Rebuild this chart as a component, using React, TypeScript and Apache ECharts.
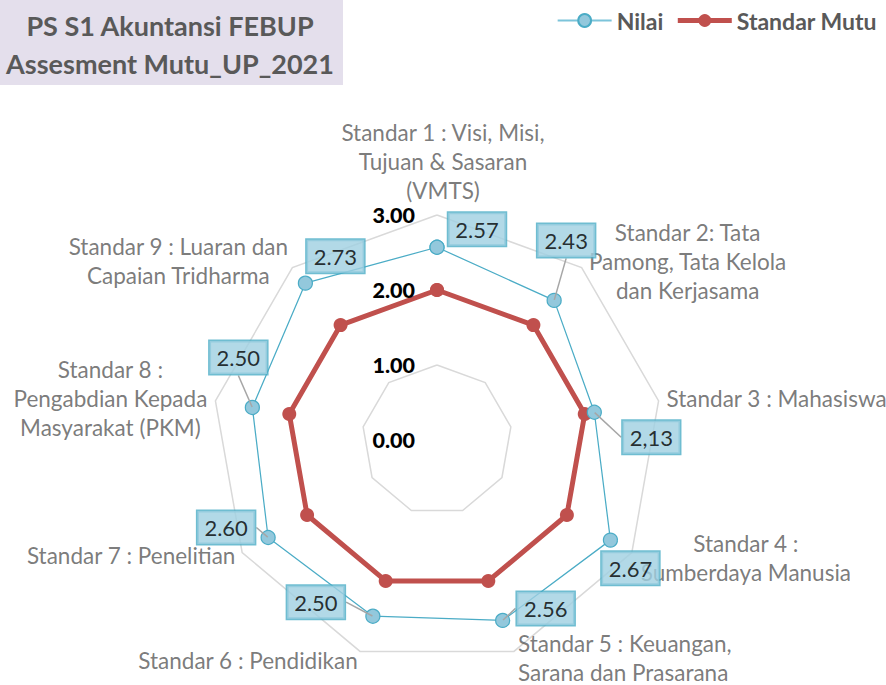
import React, { useEffect, useRef } from "react";
import * as echarts from "echarts";

const indicators = [
  "Standar 1 : Visi, Misi,\nTujuan & Sasaran\n(VMTS)",
  "Standar 2: Tata\nPamong, Tata Kelola\ndan Kerjasama",
  "Standar 3 : Mahasiswa",
  "Standar 4 :\nSumberdaya Manusia",
  "Standar 5 : Keuangan,\nSarana dan Prasarana",
  "Standar 6 : Pendidikan",
  "Standar 7 : Penelitian",
  "Standar 8 :\nPengabdian Kepada\nMasyarakat (PKM)",
  "Standar 9 : Luaran dan\nCapaian Tridharma",
];
const nilai = [2.57, 2.43, 2.13, 2.67, 2.56, 2.5, 2.6, 2.5, 2.73];
const nilaiLabels = ["2.57", "2.43", "2,13", "2.67", "2.56", "2.50", "2.60", "2.50", "2.73"];
const standarMutu = [2, 2, 2, 2, 2, 2, 2, 2, 2];
const axisMin = 0;
const axisMax = 3;
const axisInterval = 1;

// label placement (styles)
const nameOffsets: [number, number][] = [
  [6, -54], [106, -6], [118, -2], [114, 5], [4, 7], [-112, 9], [-111, 3], [-105, -2], [-114, -7],
];
const nameAlign = ["center", "center", "center", "center", "left", "center", "center", "center", "center"];
const valueLabelShift: [number, number][] = [
  [40, -18], [12, -60], [57, 25], [20, 28], [43, -12], [-57, -14], [-42, -10], [-14, -50], [30, -27],
];
const leaderShown = [false, true, true, false, true, true, true, true, false];

const FONT = "Lato";
const GRAY = "#595959";
const BLUE = "#4bacc6";
const RED = "#c0504d";

export default function App() {
  const ref = useRef<HTMLDivElement>(null);
  useEffect(() => {
    document.body.style.margin = "0";
    const chart = echarts.init(ref.current!, null, { renderer: "svg" });
    const step = 360 / indicators.length;
    const ring = (vals: number[]) => [...vals.map((v, i) => [v, i * step]), [vals[0], 360]];
    const center = [437, 440];
    const radius = 225;

    chart.setOption({
      animation: false,
      textStyle: { fontFamily: FONT },
      graphic: [
        { type: "rect", shape: { x: 0, y: 0, width: 343, height: 85 }, style: { fill: "#e4dfec" }, z: 0 },
        {
          type: "text",
          x: 170,
          y: 44,
          style: {
            text: "PS S1 Akuntansi FEBUP\nAssesment Mutu_UP_2021",
            fill: GRAY,
            font: `bold 27px ${FONT}`,
            align: "center",
            verticalAlign: "middle",
            lineHeight: 38,
          },
          z: 1,
        },
      ],
      legend: {
        data: [
          { name: "Nilai", lineStyle: { width: 2, color: "#7cc4da" } },
          { name: "Standar Mutu", lineStyle: { width: 5 } },
        ],
        top: 4,
        right: 4,
        itemWidth: 54,
        itemHeight: 16,
        itemGap: 12,
        textStyle: { color: GRAY, fontWeight: "bold", fontSize: 23, fontFamily: FONT },
      },
      radar: {
        center,
        radius,
        startAngle: 90,
        splitNumber: 3,
        shape: "polygon",
        indicator: indicators.map(() => ({ name: "", min: axisMin, max: axisMax })),
        axisName: { show: false },
        axisLine: { show: false },
        axisTick: { show: false },
        axisLabel: { show: false },
        splitArea: { show: false },
        splitLine: { lineStyle: { color: "#d9d9d9", width: 1.5 } },
      },
      polar: { center, radius },
      angleAxis: {
        type: "value",
        min: 0,
        max: 360,
        startAngle: 90,
        clockwise: true,
        show: false,
      },
      radiusAxis: {
        type: "value",
        min: axisMin,
        max: axisMax,
        interval: axisInterval,
        axisLine: { show: false },
        axisTick: { show: false },
        splitLine: { show: false },
        axisLabel: {
          formatter: (v: number) => v.toFixed(2),
          fontWeight: 900,
          color: "#000",
          fontSize: 21.5,
          fontFamily: FONT,
          margin: 22,
        },
        z: 20,
      },
      series: [
        {
          name: "Standar Mutu",
          type: "line",
          coordinateSystem: "polar",
          data: ring(standarMutu),
          symbol: "circle",
          symbolSize: 14,
          lineStyle: { color: RED, width: 5 },
          itemStyle: { color: RED },
          z: 3,
        },
        {
          name: "Nilai",
          type: "line",
          coordinateSystem: "polar",
          data: ring(nilai),
          symbol: "circle",
          symbolSize: 14,
          lineStyle: { color: BLUE, width: 1.25 },
          itemStyle: { color: "#93c8dc", borderColor: BLUE, borderWidth: 1.25 },
          z: 4,
        },
        {
          name: "names",
          type: "scatter",
          coordinateSystem: "polar",
          silent: true,
          symbolSize: 1,
          itemStyle: { color: "transparent" },
          data: indicators.map((n, i) => ({
            value: [axisMax, i * step],
            name: n,
            label: { offset: nameOffsets[i], align: nameAlign[i] },
          })),
          label: {
            show: true,
            position: "inside",
            formatter: (p: any) => p.name,
            color: GRAY,
            fontSize: 22.5,
            lineHeight: 29,
            fontFamily: FONT,
            verticalAlign: "middle",
          },
          z: 5,
        },
        {
          name: "labels",
          type: "scatter",
          coordinateSystem: "polar",
          silent: true,
          symbolSize: 1,
          itemStyle: { color: "transparent" },
          data: nilai.map((v, i) => ({
            value: [v, i * step],
            name: nilaiLabels[i],
            labelLine: { show: leaderShown[i] },
          })),
          label: {
            show: true,
            position: "inside",
            formatter: (p: any) => p.name,
            color: "#000",
            fontSize: 22,
            fontFamily: FONT,
            backgroundColor: "#9fcfe1",
            borderColor: BLUE,
            borderWidth: 1.5,
            padding: [6, 7, 5, 7],
          },
          labelLine: { show: true, lineStyle: { color: "#a6a6a6", width: 1.5 } },
          labelLayout: (p: any) => ({ dx: valueLabelShift[p.dataIndex][0], dy: valueLabelShift[p.dataIndex][1] }),
          z: 10,
        },
      ],
    });
    return () => chart.dispose();
  }, []);
  return <div ref={ref} style={{ width: 886, height: 685 }} />;
}
